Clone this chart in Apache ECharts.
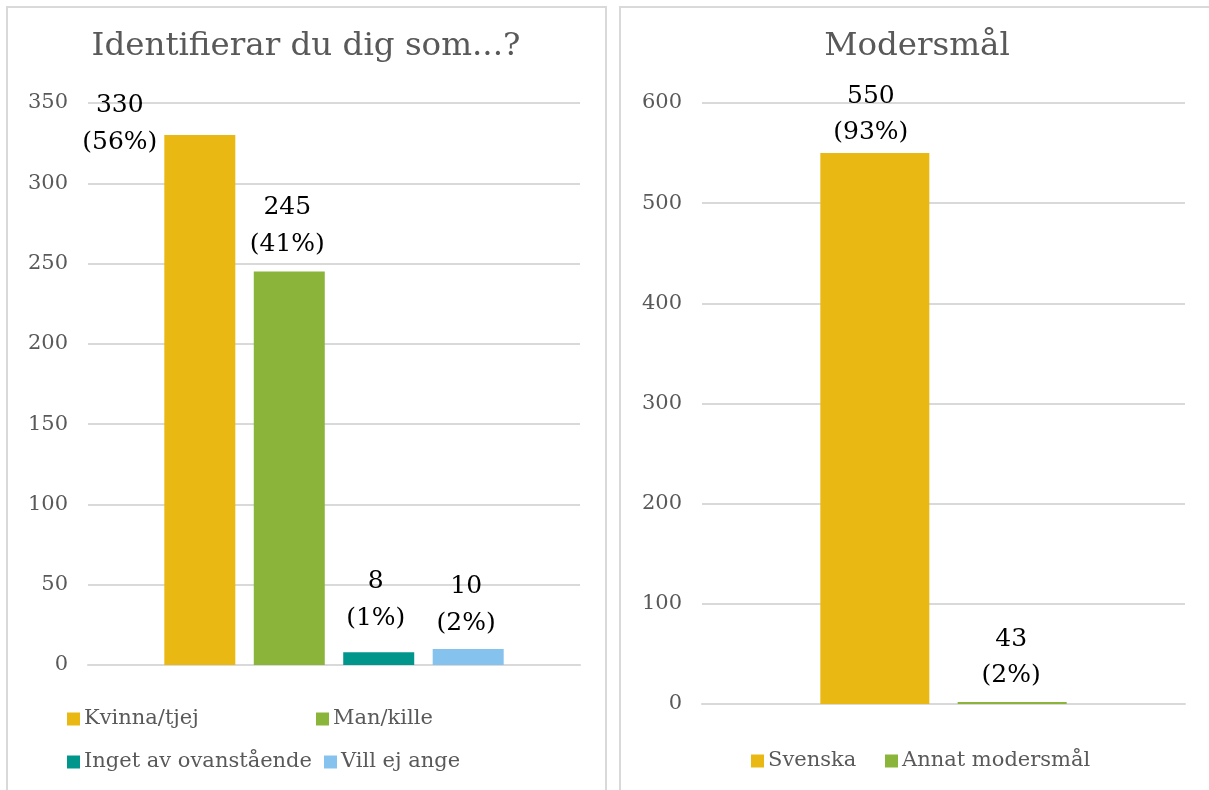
<!DOCTYPE html>
<html>
<head>
<meta charset="utf-8">
<script src="https://cdn.jsdelivr.net/npm/echarts@6/dist/echarts.min.js"></script>
<style>
  html, body { margin: 0; padding: 0; background: #fff; }
  #main { width: 1209px; height: 790px; }
</style>
</head>
<body>
<div id="main"></div>
<script>
// left chart: Identifierar du dig som...?
const idCategories = ['Kvinna/tjej', 'Man/kille', 'Inget av ovanstående', 'Vill ej ange'];
const idValues = [330, 245, 8, 10];
const idPercents = ['56%', '41%', '1%', '2%'];
const idTicks = [0, 50, 100, 150, 200, 250, 300, 350];

// right chart: Modersmål
const msCategories = ['Svenska', 'Annat modersmål'];
const msValues = [550, 2];        // bar heights as drawn
const msCounts = [550, 43];       // numbers printed in labels
const msPercents = ['93%', '2%'];
const msTicks = [0, 100, 200, 300, 400, 500, 600];

const FONT = '"DejaVu Serif", serif';
const GREY = '#595959';
const LINE = '#d9d9d9';
const idColors = ['#EAB812', '#8BB43A', '#00968C', '#86C2EE'];
const msColors = ['#EAB812', '#8BB43A'];

const chart = echarts.init(document.getElementById('main'));

function yAxis(gridIndex, ticks) {
  return {
    type: 'value', gridIndex: gridIndex,
    min: ticks[0], max: ticks[ticks.length - 1], interval: ticks[1] - ticks[0],
    axisLine: { show: false }, axisTick: { show: false },
    axisLabel: { color: GREY, fontFamily: FONT, fontSize: 21, margin: 20 },
    splitLine: { lineStyle: { color: LINE, width: 2 } }
  };
}
function xAxis(gridIndex) {
  return {
    type: 'category', gridIndex: gridIndex, data: [''],
    axisLine: { lineStyle: { color: LINE, width: 2 } },
    axisTick: { show: false }, axisLabel: { show: false }
  };
}

// label offsets per bar (hand placed in the original)
const idOffsets = [[-80, 26], [-2, -9], [-3, -15], [-2, -7]];
const msOffsets = [[-4, -3], [-1, -8]];

const series = [];
idCategories.forEach((name, i) => {
  series.push({
    name: name, type: 'bar', xAxisIndex: 0, yAxisIndex: 0,
    barWidth: 71, barGap: '26%',
    itemStyle: { color: idColors[i] },
    data: [idValues[i]],
    label: {
      show: true, position: 'top', distance: 0, offset: idOffsets[i],
      formatter: idValues[i] + '\n(' + idPercents[i] + ')',
      color: '#000', fontFamily: FONT, fontSize: 25, lineHeight: 37
    }
  });
});
msCategories.forEach((name, i) => {
  series.push({
    name: name, type: 'bar', xAxisIndex: 1, yAxisIndex: 1,
    barWidth: 109, barGap: '26%',
    itemStyle: { color: msColors[i] },
    data: [msValues[i]],
    label: {
      show: true, position: 'top', distance: 0, offset: msOffsets[i],
      formatter: msCounts[i] + '\n(' + msPercents[i] + ')',
      color: '#000', fontFamily: FONT, fontSize: 25, lineHeight: 36
    }
  });
});

function legendItem(name, left, top) {
  return {
    data: [name], left: left, top: top, padding: 0,
    itemWidth: 13, itemHeight: 13, icon: 'rect', selectedMode: false,
    textStyle: { color: GREY, fontFamily: FONT, fontSize: 21, lineHeight: 24, padding: [0, 0, 0, -1] }
  };
}

chart.setOption({
  animation: false,
  graphic: [
    { type: 'rect', shape: { x: 7, y: 7, width: 599, height: 800 },
      style: { fill: 'none', stroke: LINE, lineWidth: 2 } },
    { type: 'rect', shape: { x: 620, y: 7, width: 600, height: 800 },
      style: { fill: 'none', stroke: LINE, lineWidth: 2 } },
    { type: 'text', x: 306, y: 47,
      style: { text: 'Identifierar du dig som...?', fill: GREY, font: '32.5px ' + FONT,
               textAlign: 'center', textVerticalAlign: 'middle' } },
    { type: 'text', x: 917, y: 47,
      style: { text: 'Modersmål', fill: GREY, font: '32.5px ' + FONT,
               textAlign: 'center', textVerticalAlign: 'middle' } }
  ],
  grid: [
    { left: 88, top: 103, width: 492, height: 562 },
    { left: 702, top: 103, width: 483, height: 601 }
  ],
  xAxis: [xAxis(0), xAxis(1)],
  yAxis: [yAxis(0, idTicks), yAxis(1, msTicks)],
  legend: [
    legendItem(idCategories[0], 67, 707),
    legendItem(idCategories[1], 316, 707),
    legendItem(idCategories[2], 67, 750),
    legendItem(idCategories[3], 324, 750),
    legendItem(msCategories[0], 751, 749),
    legendItem(msCategories[1], 885, 749)
  ],
  series: series
});
</script>
</body>
</html>
